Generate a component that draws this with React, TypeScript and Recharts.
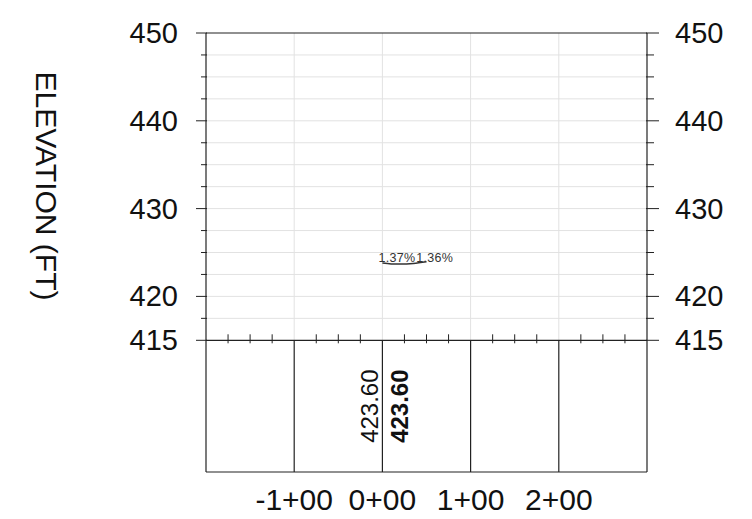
import React from 'react';
import { ComposedChart, XAxis, YAxis, Line, Scatter, ReferenceLine } from 'recharts';

// profile sheet: stations in ft, elevations in ft
const X_DOMAIN = [-200, 300];
const Y_DOMAIN = [400, 450];
const BASE_ELEV = 415;

const STATIONS = [-100, 0, 100, 200];
const MINOR_STATIONS = [-175, -150, -125, -75, -50, -25, 25, 50, 75, 125, 150, 175, 225, 250, 275];
const MAJOR_ELEVS = [415, 420, 430, 440, 450];
const MINOR_ELEVS = [417.5, 422.5, 425, 427.5, 432.5, 435, 437.5, 442.5, 445, 447.5];
const GRID_ELEVS = [417.5, 420, 422.5, 425, 427.5, 430, 432.5, 435, 437.5, 440, 442.5, 445, 447.5];

// PVI and grades
const PVI_STATION = 0;
const PVI_ELEV = 423.6;
const GRADES = ['1.37%', '1.36%'];

// small vertical curve under the grade note
const CURVE_STATIONS = [0, 10, 20, 35, 50];
const CURVE_ELEVS = [423.8, 423.7, 423.68, 423.75, 423.95];

// elevation labels in the bottom band
const LABEL_STATIONS = [0];
const EXISTING_ELEVS = ['423.60'];
const PROPOSED_ELEVS = ['423.60'];

const INK = '#222';
const GRID = '#e2e2e2';
const FONT = '"Liberation Sans", Arial, sans-serif';

const ALL_TICKS = [...MAJOR_ELEVS, ...MINOR_ELEVS].sort((a, b) => a - b);
const curveData = CURVE_STATIONS.map((s, i) => ({ station: s, elev: CURVE_ELEVS[i] }));
const minorTickData = MINOR_STATIONS.map((s) => ({ station: s, elev: BASE_ELEV }));
const bandMid = (Y_DOMAIN[0] + BASE_ELEV) / 2;
const bandLabelData = LABEL_STATIONS.map((s, i) => ({
  station: s,
  elev: bandMid,
  existing: EXISTING_ELEVS[i],
  proposed: PROPOSED_ELEVS[i],
}));
const pviData = [{ station: PVI_STATION, elev: PVI_ELEV }];

const fmtStation = (s: number) => `${s < 0 ? '-' : ''}${Math.abs(s) / 100}+00`;

function ElevTick(props: any) {
  const { x, y, payload, side } = props;
  const v = payload.value;
  const major = MAJOR_ELEVS.includes(v);
  const dir = side === 'left' ? -1 : 1;
  const len = major ? (side === 'left' ? 10 : 12) : side === 'left' ? 5 : 7;
  return (
    <g>
      <line x1={x - dir} x2={x + dir * len} y1={y} y2={y} stroke={INK} strokeWidth={1} />
      {major && (
        <text
          x={x + dir * 28}
          y={y}
          textAnchor={side === 'left' ? 'end' : 'start'}
          dominantBaseline="central"
          fontSize={29}
          fontFamily={FONT}
          fill="#111"
        >
          {v}
        </text>
      )}
    </g>
  );
}

function AxisTitle(props: any) {
  const { viewBox } = props;
  const x = viewBox.x - 80;
  const y = viewBox.y + 153;
  return (
    <text
      x={x}
      y={y}
      transform={`rotate(90, ${x}, ${y})`}
      textAnchor="middle"
      dominantBaseline="central"
      fontSize={30}
      fontFamily={FONT}
      fill="#111"
    >
      ELEVATION (FT)
    </text>
  );
}

const StationTick = (props: any) => {
  const { cx, cy } = props;
  return <line x1={cx} x2={cx} y1={cy - 6} y2={cy + 3} stroke={INK} strokeWidth={1} />;
};

const GradeNote = (props: any) => {
  const { cx, cy } = props;
  return (
    <text x={cx - 4} y={cy - 3} fontFamily={FONT} fontSize={12.5} fill="#333" letterSpacing={0.3}>
      {GRADES[0]}
      <tspan dx={1}>{GRADES[1]}</tspan>
    </text>
  );
};

const BandLabel = (props: any) => {
  const { cx, cy, payload } = props;
  const lx = cx - 13;
  const rx = cx + 17;
  return (
    <g fontFamily={FONT} fontSize={24} fill="#111">
      <text x={lx} y={cy} transform={`rotate(-90, ${lx}, ${cy})`} textAnchor="middle" dominantBaseline="central">
        {payload.existing}
      </text>
      <text
        x={rx}
        y={cy}
        transform={`rotate(-90, ${rx}, ${cy})`}
        textAnchor="middle"
        dominantBaseline="central"
        fontWeight="bold"
      >
        {payload.proposed}
      </text>
    </g>
  );
};

export default function App() {
  return (
    <div style={{ position: 'absolute', left: 0, top: 0, background: '#fff' }}>
      <ComposedChart width={752} height={519} margin={{ top: 33, right: 25, bottom: 7, left: 126 }}>
        <XAxis
          dataKey="station"
          type="number"
          domain={X_DOMAIN}
          ticks={STATIONS}
          interval={0}
          allowDataOverflow
          tickFormatter={fmtStation}
          tickLine={false}
          tickSize={0}
          tickMargin={17}
          height={40}
          axisLine={{ stroke: INK, strokeWidth: 1.2 }}
          tick={{ fontSize: 30, fontFamily: FONT, fill: '#111' }}
        />
        <YAxis
          type="number"
          domain={Y_DOMAIN}
          ticks={ALL_TICKS}
          interval={0}
          allowDataOverflow
          width={80}
          tickLine={false}
          tickSize={0}
          tickMargin={0}
          axisLine={{ stroke: INK, strokeWidth: 1.2 }}
          tick={(p: any) => <ElevTick {...p} side="left" />}
          label={<AxisTitle />}
        />
        <YAxis
          yAxisId="right"
          orientation="right"
          type="number"
          domain={Y_DOMAIN}
          ticks={ALL_TICKS}
          interval={0}
          allowDataOverflow
          width={80}
          tickLine={false}
          tickSize={0}
          tickMargin={0}
          axisLine={{ stroke: INK, strokeWidth: 1.2 }}
          tick={(p: any) => <ElevTick {...p} side="right" />}
        />

        {GRID_ELEVS.map((e) => (
          <ReferenceLine key={`g${e}`} y={e} stroke={GRID} strokeWidth={1} />
        ))}
        {STATIONS.map((s) => (
          <ReferenceLine
            key={`v${s}`}
            segment={[
              { x: s, y: BASE_ELEV },
              { x: s, y: Y_DOMAIN[1] },
            ]}
            stroke={GRID}
            strokeWidth={1}
          />
        ))}
        {STATIONS.map((s) => (
          <ReferenceLine
            key={`b${s}`}
            segment={[
              { x: s, y: Y_DOMAIN[0] },
              { x: s, y: BASE_ELEV },
            ]}
            stroke={INK}
            strokeWidth={1.2}
          />
        ))}
        <ReferenceLine y={Y_DOMAIN[1]} stroke={INK} strokeWidth={1.2} />
        <ReferenceLine y={BASE_ELEV} stroke={INK} strokeWidth={1.2} />

        <Scatter data={minorTickData} dataKey="elev" shape={StationTick} isAnimationActive={false} />
        <Line
          data={curveData}
          dataKey="elev"
          type="monotone"
          stroke="#333"
          strokeWidth={1.5}
          dot={false}
          isAnimationActive={false}
        />
        <Scatter data={pviData} dataKey="elev" shape={GradeNote} isAnimationActive={false} />
        <Scatter data={bandLabelData} dataKey="elev" shape={BandLabel} isAnimationActive={false} />
      </ComposedChart>
    </div>
  );
}
